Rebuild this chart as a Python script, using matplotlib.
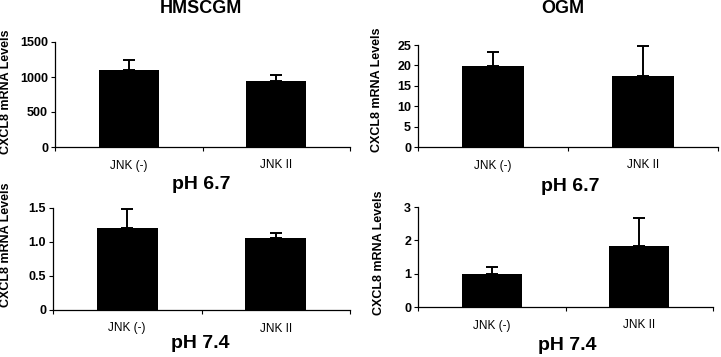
import matplotlib.pyplot as plt
import numpy as np

plt.rcParams['font.family'] = ['Liberation Sans', 'DejaVu Sans']

categories = ["JNK (-)", "JNK II"]

# top row: pH 6.7
hmscgm_67 = [1100, 943]
hmscgm_67_err = [143, 86]
ogm_67 = [19.8, 17.5]
ogm_67_err = [3.5, 7.2]

# bottom row: pH 7.4
hmscgm_74 = [1.2, 1.06]
hmscgm_74_err = [0.29, 0.07]
ogm_74 = [1.0, 1.84]
ogm_74_err = [0.2, 0.82]

W, H = 721, 357
fig = plt.figure(figsize=(W / 100, H / 100), dpi=100)


def px_axes(x0, x1, ytop, ybot):
    return fig.add_axes([x0 / W, 1 - ybot / H, (x1 - x0) / W, (ybot - ytop) / H])


def panel(ax, vals, errs, yticks, ylabels):
    x = np.arange(len(categories))
    ax.bar(x, vals, width=0.41, color="black", zorder=2)
    ax.errorbar(x, vals, yerr=[np.zeros(len(errs)), errs], fmt="none",
                ecolor="black", elinewidth=1.4, capsize=4, capthick=1.4, zorder=1)
    ax.set_xlim(-0.5, 1.5)
    ax.set_ylim(yticks[0], yticks[-1])
    ax.set_yticks(yticks)
    ax.set_yticklabels(ylabels, fontsize=9, fontweight="bold")
    ax.set_xticks(x)
    ax.set_xticklabels(categories, fontsize=8.5)
    ax.tick_params(axis="x", length=0, pad=9)
    ax.set_xticks([-0.5, 0.5, 1.5], minor=True)
    ax.tick_params(axis="x", which="minor", length=3, width=0.8)
    ax.tick_params(axis="y", length=3, width=0.8, pad=2)
    for s in ["top", "right"]:
        ax.spines[s].set_visible(False)
    ax.spines["left"].set_linewidth(0.9)
    ax.spines["bottom"].set_linewidth(0.9)


ax1 = px_axes(55, 350, 42, 147)
panel(ax1, hmscgm_67, hmscgm_67_err, [0, 500, 1000, 1500], ["0", "500", "1000", "1500"])
ax2 = px_axes(418, 718, 45, 147)
panel(ax2, ogm_67, ogm_67_err, [0, 5, 10, 15, 20, 25], ["0", "5", "10", "15", "20", "25"])
ax3 = px_axes(53, 350, 208, 310)
panel(ax3, hmscgm_74, hmscgm_74_err, [0, 0.5, 1.0, 1.5], ["0", "0.5", "1.0", "1.5"])
ax4 = px_axes(418, 713, 207, 307)
panel(ax4, ogm_74, ogm_74_err, [0, 1, 2, 3], ["0", "1", "2", "3"])


# titles and labels, in pixel positions
def ftext(x, y, s, va="baseline", **kw):
    fig.text(x / W, 1 - y / H, s, ha="center", va=va, fontweight="bold", **kw)


ftext(201, 13, "HMSCGM", fontsize=13)
ftext(562.5, 13, "OGM", fontsize=13)
ftext(201.5, 189, "pH 6.7", fontsize=14)
ftext(570, 191, "pH 6.7", fontsize=14)
ftext(200.5, 348, "pH 7.4", fontsize=14)
ftext(567.5, 350, "pH 7.4", fontsize=14)

ylab = "CXCL8 mRNA Levels"
ftext(6, 92, ylab, va="center", fontsize=9, rotation=90)
ftext(377, 90, ylab, va="center", fontsize=9, rotation=90)
ftext(6, 245, ylab, va="center", fontsize=9, rotation=90)
ftext(379, 253, ylab, va="center", fontsize=9, rotation=90)

fig.savefig("out.png", dpi=100)
